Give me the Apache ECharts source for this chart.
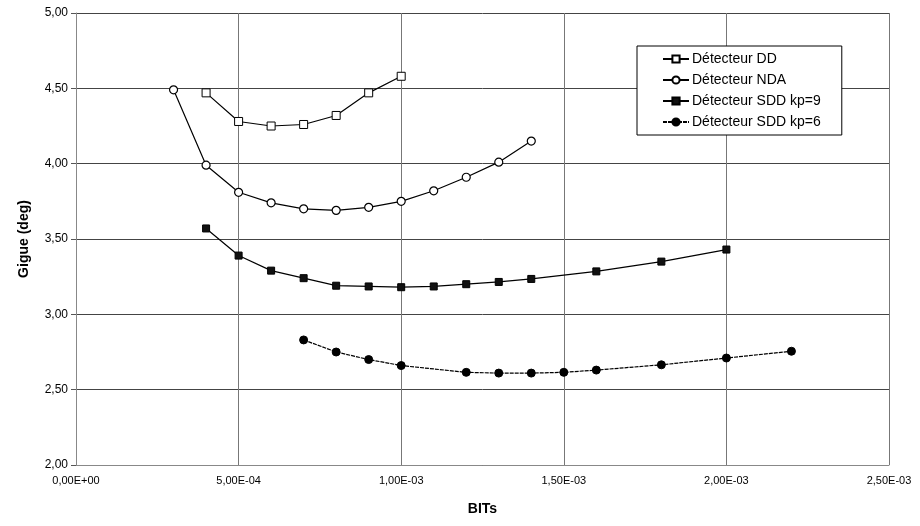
<!DOCTYPE html>
<html>
<head>
<meta charset="utf-8">
<title>Gigue vs BITs</title>
<script src="https://cdn.jsdelivr.net/npm/echarts@6/dist/echarts.min.js"></script>
<style>
  html, body { margin: 0; padding: 0; background: #fff; }
  #chart { width: 920px; height: 526px; }
</style>
</head>
<body>
<div id="chart"></div>
<script>
// valeurs (x = BITs, y = gigue en degrés)
const seriesNames = ['Détecteur DD', 'Détecteur NDA', 'Détecteur SDD kp=9', 'Détecteur SDD kp=6'];

const ddX = [4e-4, 5e-4, 6e-4, 7e-4, 8e-4, 9e-4, 1e-3];
const ddY = [4.47, 4.28, 4.25, 4.26, 4.32, 4.47, 4.58];

const ndaX = [3e-4, 4e-4, 5e-4, 6e-4, 7e-4, 8e-4, 9e-4, 1e-3, 1.1e-3, 1.2e-3, 1.3e-3, 1.4e-3];
const ndaY = [4.49, 3.99, 3.81, 3.74, 3.70, 3.69, 3.71, 3.75, 3.82, 3.91, 4.01, 4.15];

const sdd9X = [4e-4, 5e-4, 6e-4, 7e-4, 8e-4, 9e-4, 1e-3, 1.1e-3, 1.2e-3, 1.3e-3, 1.4e-3, 1.6e-3, 1.8e-3, 2e-3];
const sdd9Y = [3.57, 3.39, 3.29, 3.24, 3.19, 3.185, 3.18, 3.185, 3.20, 3.215, 3.235, 3.285, 3.35, 3.43];

const sdd6X = [7e-4, 8e-4, 9e-4, 1e-3, 1.2e-3, 1.3e-3, 1.4e-3, 1.5e-3, 1.6e-3, 1.8e-3, 2e-3, 2.2e-3];
const sdd6Y = [2.83, 2.75, 2.70, 2.66, 2.615, 2.61, 2.61, 2.615, 2.63, 2.665, 2.71, 2.755];

const FONT = '"Liberation Sans", Arial, sans-serif';

function pairs(xs, ys) {
  return xs.map((x, i) => [x, ys[i]]);
}

// 5e-4 -> "5,00E-04"
function sciLabel(v) {
  if (Math.abs(v) < 1e-12) return '0,00E+00';
  let s = v.toExponential(2);
  let parts = s.split('e');
  let exp = parseInt(parts[1], 10);
  let sign = exp < 0 ? '-' : '+';
  let e = String(Math.abs(exp)).padStart(2, '0');
  return parts[0].replace('.', ',') + 'E' + sign + e;
}

let chart = echarts.init(document.getElementById('chart'));

let option = {
  animation: false,
  backgroundColor: '#fff',
  textStyle: { fontFamily: FONT },
  grid: { left: 76, right: 31, top: 13, bottom: 61 },
  legend: {
    orient: 'vertical',
    left: 637,
    top: 46,
    data: seriesNames,
    backgroundColor: '#fff',
    borderColor: '#000',
    borderWidth: 1,
    borderRadius: 0,
    padding: [6, 21, 6, 25],
    itemGap: 7,
    itemWidth: 26,
    itemHeight: 9,
    textStyle: { fontFamily: FONT, fontSize: 14, color: '#000', padding: [0, 0, 0, -2] }
  },
  xAxis: {
    type: 'value',
    min: 0,
    max: 2.5e-3,
    interval: 5e-4,
    name: 'BITs',
    nameLocation: 'middle',
    nameGap: 37,
    nameTextStyle: { fontFamily: FONT, fontSize: 14, fontWeight: 'bold', color: '#000' },
    axisLine: { show: true, lineStyle: { color: '#888', width: 1 } },
    axisTick: { show: false },
    axisLabel: { formatter: sciLabel, fontFamily: FONT, fontSize: 11, color: '#000', margin: 10 },
    splitLine: { show: true, lineStyle: { color: '#777', width: 1 } }
  },
  yAxis: {
    type: 'value',
    min: 2,
    max: 5,
    interval: 0.5,
    name: 'Gigue (deg)',
    nameLocation: 'middle',
    nameGap: 45,
    nameTextStyle: { fontFamily: FONT, fontSize: 14, fontWeight: 'bold', color: '#000' },
    axisLine: { show: true, lineStyle: { color: '#888', width: 1 } },
    axisTick: { show: true, length: 5, lineStyle: { color: '#555' } },
    axisLabel: {
      formatter: v => v.toFixed(2).replace('.', ','),
      fontFamily: FONT, fontSize: 12, color: '#000', margin: 8
    },
    splitLine: { show: true, lineStyle: { color: '#444', width: 1 } }
  },
  series: [
    {
      name: seriesNames[0],
      type: 'line',
      data: pairs(ddX, ddY),
      symbol: 'rect',
      symbolSize: 8,
      lineStyle: { color: '#000', width: 1.2 },
      itemStyle: { color: '#fff', borderColor: '#000', borderWidth: 1 }
    },
    {
      name: seriesNames[1],
      type: 'line',
      data: pairs(ndaX, ndaY),
      symbol: 'circle',
      symbolSize: 8,
      lineStyle: { color: '#000', width: 1.2 },
      itemStyle: { color: '#fff', borderColor: '#000', borderWidth: 1.2 }
    },
    {
      name: seriesNames[2],
      type: 'line',
      data: pairs(sdd9X, sdd9Y),
      symbol: 'rect',
      symbolSize: 7,
      lineStyle: { color: '#000', width: 1.2 },
      itemStyle: { color: '#111', borderColor: '#000', borderWidth: 1 }
    },
    {
      name: seriesNames[3],
      type: 'line',
      data: pairs(sdd6X, sdd6Y),
      symbol: 'circle',
      symbolSize: 8,
      lineStyle: { color: '#000', width: 1.2, type: [4, 1] },
      itemStyle: { color: '#000', borderColor: '#000', borderWidth: 1 }
    }
  ]
};

chart.setOption(option);
</script>
</body>
</html>
